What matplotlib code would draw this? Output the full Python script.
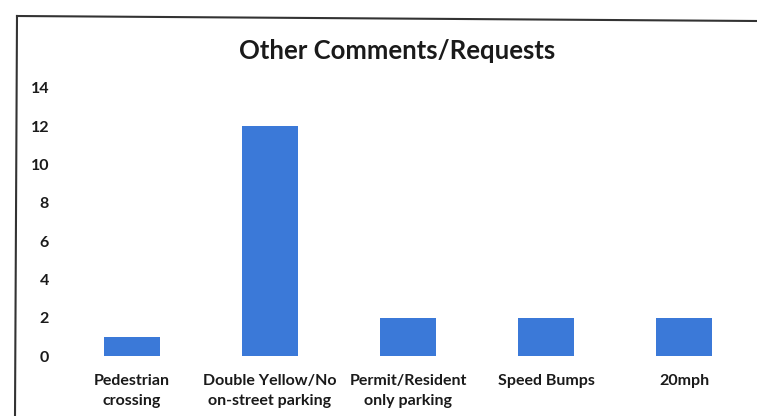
import matplotlib.pyplot as plt
from matplotlib.lines import Line2D

categories = ['Pedestrian\ncrossing', 'Double Yellow/No\non-street parking',
              'Permit/Resident\nonly parking', 'Speed Bumps', '20mph']
counts = [1, 12, 2, 2, 2]
y_ticks = [0, 2, 4, 6, 8, 10, 12, 14]

W, H = 757, 416
fig = plt.figure(figsize=(W / 100, H / 100), dpi=100)
plt.rcParams['font.family'] = ['Lato', 'DejaVu Sans']

# plot area in pixel terms, converted to figure fractions
left, right, top, bottom = 63, 753, 88, 356
ax = fig.add_axes([left / W, (H - bottom) / H, (right - left) / W, (bottom - top) / H])

x = range(len(categories))
ax.bar(x, counts, width=0.4, color='#3b79d8')
ax.set_xlim(-0.5, len(categories) - 0.5)
ax.set_ylim(0, 14)
ax.set_yticks(y_ticks)
ax.set_xticks(list(x))
ax.set_xticklabels(categories, fontsize=11.5, fontweight='bold', linespacing=1.5,
                   color='#1a1a1a')
ax.set_yticklabels([str(v) for v in y_ticks], fontsize=11.5, fontweight='bold',
                   color='#1a1a1a')
ax.tick_params(axis='y', length=0, pad=10)
ax.tick_params(axis='x', length=0, pad=13)
for s in ax.spines.values():
    s.set_visible(False)

fig.text(397 / W, 1 - 51 / H, 'Other Comments/Requests', ha='center', va='center',
         fontsize=18.5, fontweight='bold', color='#1a1a1a')

# scanned frame edges
fig.add_artist(Line2D([17 / W, 1.0], [1 - 16 / H, 1 - 21 / H], color='#333333', lw=1.5))
fig.add_artist(Line2D([17 / W, 15 / W], [1 - 16 / H, 0.0], color='#333333', lw=1.5))

fig.savefig('out.png', dpi=100)
